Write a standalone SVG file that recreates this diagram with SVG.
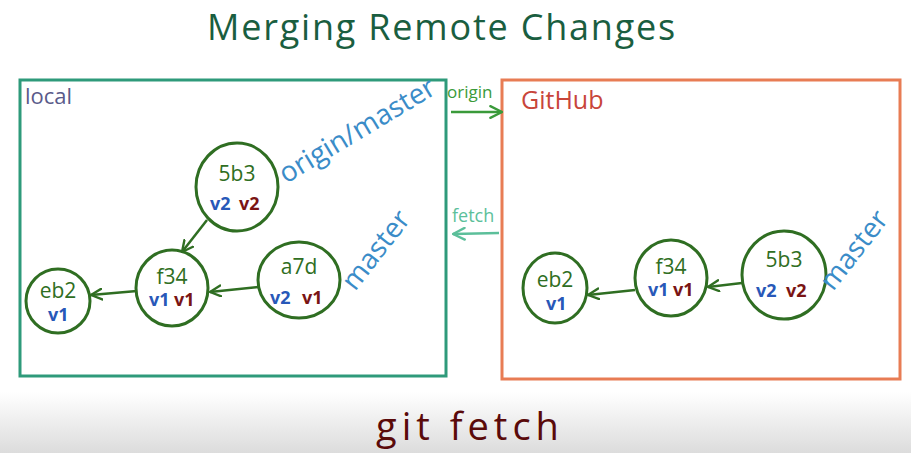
<svg xmlns="http://www.w3.org/2000/svg" width="911" height="453" viewBox="0 0 911 453">
<defs>
<linearGradient id="bg" x1="0" y1="0" x2="0" y2="1">
<stop offset="0" stop-color="#ffffff"/>
<stop offset="1" stop-color="#dcdcdc"/>
</linearGradient>
<marker id="ah" viewBox="0 0 12 12" refX="11" refY="6" markerWidth="13" markerHeight="13" markerUnits="userSpaceOnUse" orient="auto">
<path d="M1,1 L11,6 L1,11" fill="none" stroke="#2f6e22" stroke-width="2.2" stroke-linecap="round" stroke-linejoin="round"/>
</marker>
<marker id="ahO" viewBox="0 0 12 12" refX="11" refY="6" markerWidth="14" markerHeight="14" markerUnits="userSpaceOnUse" orient="auto">
<path d="M1,1 L11,6 L1,11" fill="none" stroke="#3a9a3a" stroke-width="2" stroke-linecap="round"/>
</marker>
<marker id="ahF" viewBox="0 0 12 12" refX="11" refY="6" markerWidth="14" markerHeight="14" markerUnits="userSpaceOnUse" orient="auto">
<path d="M1,1 L11,6 L1,11" fill="none" stroke="#5cbf9a" stroke-width="2" stroke-linecap="round"/>
</marker>
</defs>
<style>
text{font-family:"Open Sans","Liberation Sans",sans-serif}
.node{fill:#fff;stroke:#2f6e22;stroke-width:3}
.hash{fill:#2f6e22;font-size:21px;text-anchor:middle}
.vb{fill:#2858b8;font-size:18px;font-weight:bold}
.vr{fill:#7a1414;font-size:18px;font-weight:bold}
.ref{fill:#3a8cc8;font-size:28px}
.edge{stroke:#2f6e22;stroke-width:2.5;fill:none;marker-end:url(#ah)}
</style>
<rect x="0" y="0" width="911" height="453" fill="#fff"/>
<rect x="0" y="392" width="911" height="61" fill="url(#bg)"/>
<text x="442" y="40" font-size="36" letter-spacing="1.8" fill="#1a5e40" text-anchor="middle">Merging Remote Changes</text>

<g id="local-box">
<rect x="20" y="80" width="426" height="296" fill="none" stroke="#2e9a7a" stroke-width="3"/>
<text x="25" y="104" font-size="22" fill="#5a5a8a">local</text>
</g>
<g id="github-box">
<rect x="502" y="80" width="398" height="299" fill="none" stroke="#e87c54" stroke-width="3"/>
<text x="521" y="109" font-size="25" fill="#c8453a">GitHub</text>
</g>

<g id="origin-label"><text x="447" y="98" font-size="17" fill="#3a9a3a">origin</text></g>
<g id="fetch-label"><text x="452" y="222" font-size="18" fill="#5cbf9a">fetch</text></g>

<g id="local-5b3">
<ellipse cx="237" cy="187" rx="41" ry="44" class="node"/>
<text x="237" y="181" class="hash">5b3</text>
<text x="210" y="210" class="vb">v2</text><text x="239" y="210" class="vr">v2</text>
</g>
<g id="local-f34">
<ellipse cx="172" cy="288" rx="36" ry="38" class="node"/>
<text x="172" y="284" class="hash">f34</text>
<text x="149" y="306" class="vb">v1</text><text x="174" y="306" class="vr">v1</text>
</g>
<g id="local-a7d">
<ellipse cx="299" cy="280" rx="41" ry="38" class="node"/>
<text x="299" y="274" class="hash">a7d</text>
<text x="270" y="304" class="vb">v2</text><text x="302" y="304" class="vr">v1</text>
</g>
<g id="local-eb2">
<ellipse cx="58" cy="301" rx="32" ry="32" class="node"/>
<text x="58" y="298" class="hash">eb2</text>
<text x="48" y="321" class="vb">v1</text>
</g>
<g id="local-origin-master"><text x="286" y="184" class="ref" transform="rotate(-31 286 184)">origin/master</text></g>
<g id="local-master"><text x="355" y="292" class="ref" transform="rotate(-52 355 292)">master</text></g>

<g id="gh-eb2">
<ellipse cx="555" cy="288" rx="32" ry="35" class="node"/>
<text x="555" y="287" class="hash">eb2</text>
<text x="546" y="310" class="vb">v1</text>
</g>
<g id="gh-f34">
<ellipse cx="671" cy="278" rx="36" ry="38" class="node"/>
<text x="671" y="274" class="hash">f34</text>
<text x="648" y="296" class="vb">v1</text><text x="673" y="296" class="vr">v1</text>
</g>
<g id="gh-5b3">
<ellipse cx="784" cy="275" rx="42" ry="44" class="node"/>
<text x="784" y="267" class="hash">5b3</text>
<text x="756" y="297" class="vb">v2</text><text x="786" y="297" class="vr">v2</text>
</g>
<g id="gh-master"><text x="833" y="292" class="ref" transform="rotate(-52 833 292)">master</text></g>

<g id="connectors">
<line x1="207" y1="220" x2="182" y2="252" class="edge"/>
<line x1="258" y1="287" x2="210" y2="292" class="edge"/>
<line x1="137" y1="291" x2="91" y2="295" class="edge"/>
<line x1="742" y1="283" x2="708" y2="287" class="edge"/>
<line x1="635" y1="290" x2="588" y2="295" class="edge"/>
<line x1="451" y1="112" x2="502" y2="112" stroke="#3a9a3a" stroke-width="2.5" marker-end="url(#ahO)"/>
<line x1="499" y1="233" x2="453" y2="234" stroke="#5cbf9a" stroke-width="2.5" marker-end="url(#ahF)"/>
</g>

<text x="470" y="440" font-size="38" letter-spacing="5" fill="#5a0a0a" text-anchor="middle">git fetch</text>
</svg>
